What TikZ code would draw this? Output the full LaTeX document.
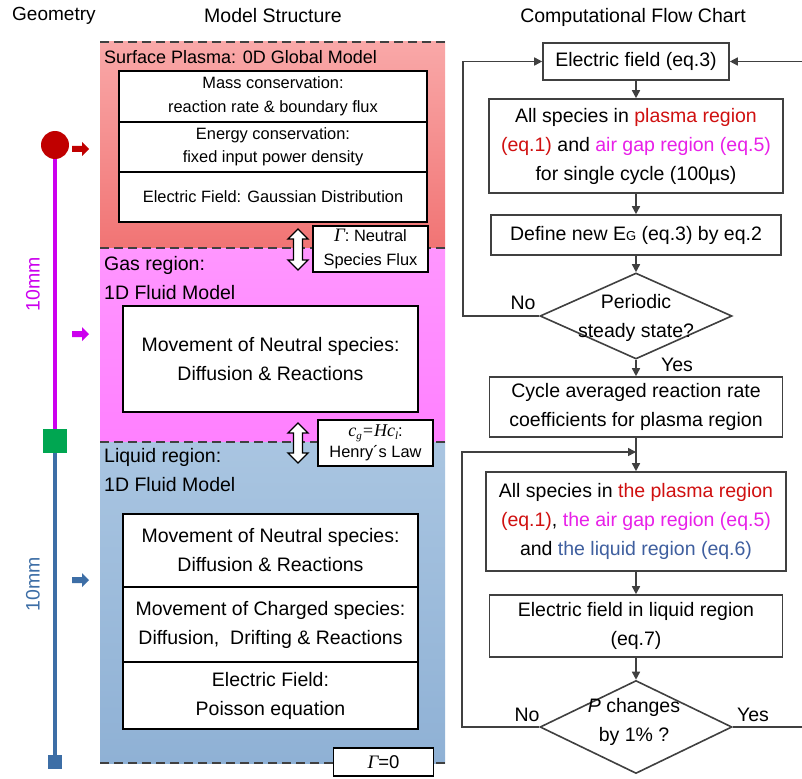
\documentclass[tikz,border=0pt]{standalone}
\usepackage{fontspec}
\setmainfont{Liberation Sans}
\newfontfamily\serifi{Liberation Serif}
\usetikzlibrary{shapes.geometric,arrows.meta}
\definecolor{redtop}{HTML}{F9A8A8}
\definecolor{redbot}{HTML}{F17474}
\definecolor{pinktop}{HTML}{FF96FF}
\definecolor{pinkbot}{HTML}{FF80FF}
\definecolor{bluetop}{HTML}{A9C5E1}
\definecolor{bluebot}{HTML}{8FB1D5}
\definecolor{dkred}{HTML}{C00000}
\definecolor{magc}{HTML}{CC00EE}
\definecolor{greenc}{HTML}{00A651}
\definecolor{bluec}{HTML}{3D6EA6}
\definecolor{lineg}{HTML}{404040}
\definecolor{fred}{HTML}{D01010}
\definecolor{fmag}{HTML}{E820E8}
\definecolor{fblue}{HTML}{3F5F9F}
\newcommand\bigf{\fontsize{19.5}{29}\selectfont}
\newcommand\midf{\fontsize{18}{26}\selectfont}
\newcommand\smallf{\fontsize{16.4}{23.5}\selectfont}
\newcommand\myGamma{{\serifi\itshape\fontsize{19}{19}\selectfont Γ}}
\newcommand\subi[1]{\raisebox{-3pt}{\fontsize{11}{11}\selectfont #1}}
\tikzset{
  cell/.style={draw=black, fill=white, line width=1.6pt, inner sep=0pt, align=center, font=\smallf},
  bigcell/.style={draw=black, fill=white, line width=1.6pt, inner sep=0pt, align=center, font=\bigf},
  tagbox/.style={draw=black, fill=white, line width=1.5pt, inner sep=0pt, align=center, font=\fontsize{16.4}{21}\selectfont},
  fbox/.style={draw=lineg, fill=white, line width=1.6pt, inner sep=0pt, align=center, font=\bigf},
  fdia/.style={draw=lineg, fill=white, line width=1.6pt, diamond, inner sep=0pt},
  conn/.style={draw=lineg, line width=1.6pt},
  arr/.style={conn, -{Triangle[length=8pt,width=8pt]}},
  sep/.style={draw=lineg, line width=1.5pt, dash pattern=on 9pt off 5pt},
  title/.style={font=\bigf, inner sep=0pt},
  lbl/.style={font=\bigf, inner sep=0pt, anchor=west},
  dblarr/.style={draw=black, fill=white, line width=1.3pt},
}
\begin{document}
\begin{tikzpicture}[x=1pt,y=-1pt]
\clip (0,0) rectangle (802,778);
\fill[white] (0,0) rectangle (802,778);

% titles
\node[title, anchor=west, font=\fontsize{19}{24}\selectfont] (tg) at (12,16) {Geometry};
\node[title] (tm) at (273,16) {Model Structure};
\node[title] (tc) at (633,17) {Computational Flow Chart};

% regions
\shade[top color=redtop, bottom color=redbot] (100,42) rectangle (445,248);
\shade[top color=pinktop, bottom color=pinkbot] (100,248) rectangle (445,442);
\shade[top color=bluetop, bottom color=bluebot] (100,442) rectangle (445,763);
\draw[sep] (100,42) -- (445,42);
\draw[sep] (100,248) -- (445,248);
\draw[sep] (100,442) -- (445,442);
\draw[sep] (100,763) -- (445,763);

% geometry
\draw[magc, line width=4.5pt] (55,145) -- (55,441);
\draw[bluec, line width=4pt] (55,441) -- (55,762);
\fill[dkred] (55,145) circle (14pt);
\fill[greenc] (43,429) rectangle (67,453);
\fill[bluec] (48,755) rectangle (62,769);
\node[rotate=90, text=magc, font=\bigf, inner sep=0pt] (m1) at (33,284) {10mm};
\node[rotate=90, text=bluec, font=\bigf, inner sep=0pt] (m2) at (33,584) {10mm};
\fill[dkred] (72,146) -- (82,146) -- (82,142) -- (89,149) -- (82,156) -- (82,152) -- (72,152) -- cycle;
\fill[magc] (72,331) -- (82,331) -- (82,327) -- (89,334) -- (82,341) -- (82,337) -- (72,337) -- cycle;
\fill[bluec] (72,577) -- (82,577) -- (82,573) -- (89,580) -- (82,587) -- (82,583) -- (72,583) -- cycle;

% surface plasma
\node[lbl, font=\midf] (sp) at (104,57) {Surface Plasma: 0D Global Model};
\node[cell, minimum width=308, minimum height=51] (mass) at (273,96.5) {Mass conservation:\\reaction rate \& boundary flux};
\node[cell, minimum width=308, minimum height=50] (energy) at (273,147) {Energy conservation:\\fixed input power density};
\node[cell, minimum width=308, minimum height=50] (ef) at (273,197) {Electric Field: Gaussian Distribution};

% flux
\draw[dblarr] (298,229) -- (308,239) -- (302.5,239) -- (302.5,260) -- (308,260) -- (298,270) -- (288,260) -- (293.5,260) -- (293.5,239) -- (288,239) -- cycle;
\node[tagbox, minimum width=115, minimum height=46, font=\fontsize{16.4}{24}\selectfont] (flux) at (370.5,249) {\myGamma: Neutral\\Species Flux};

% gas region
\node[lbl] (gr) at (104,265) {Gas region:};
\node[lbl] (gf) at (104,293) {1D Fluid Model};
\node[bigcell, minimum width=295, minimum height=106] (gasbox) at (270.5,359) {Movement of Neutral species:\\Diffusion \& Reactions};

% henry
\draw[dblarr] (298,423) -- (308,433) -- (302.5,433) -- (302.5,453) -- (308,453) -- (298,463) -- (288,453) -- (293.5,453) -- (293.5,433) -- (288,433) -- cycle;
\node[tagbox, minimum width=115, minimum height=46] (henry) at (375.5,443) {{\serifi\itshape\fontsize{18}{18}\selectfont c\subi{g}=Hc\subi{l}}:\\Henry´s Law};

% liquid region
\node[lbl] (lr) at (104,457) {Liquid region:};
\node[lbl] (lf) at (104,485) {1D Fluid Model};
\node[bigcell, minimum width=295, minimum height=73] (ln) at (270.5,550.5) {Movement of Neutral species:\\Diffusion \& Reactions};
\node[bigcell, minimum width=295, minimum height=75] (lc) at (270.5,624.5) {Movement of Charged species:\\Diffusion,\ \ Drifting \& Reactions};
\node[bigcell, minimum width=295, minimum height=67] (le) at (270.5,695.5) {Electric Field:\\Poisson equation};
\node[tagbox, minimum width=100, minimum height=28, font=\fontsize{18.5}{20}\selectfont] (g0) at (383.5,762) {\myGamma=0};

% flow chart
\node[fbox, minimum width=186, minimum height=37] (b1) at (636,61.5) {Electric field (eq.3)};
\node[fbox, minimum width=294, minimum height=94] (b2) at (636,146) {All species in \textcolor{fred}{plasma region}\\\textcolor{fred}{(eq.1)} and \textcolor{fmag}{air gap region (eq.5)}\\for single cycle (100µs)};
\node[fbox, minimum width=290, minimum height=40] (b3) at (636,235) {Define new E{\fontsize{13}{13}\selectfont G} (eq.3) by eq.2};
\node[fdia, minimum width=192, minimum height=86] (d1) at (636,316) {};
\node[font=\bigf, align=center, inner sep=0pt] (d1t) at (636,318) {Periodic\\steady state?};
\node[fbox, minimum width=293, minimum height=60] (b4) at (636,407) {Cycle averaged reaction rate\\coefficients for plasma region};
\node[fbox, minimum width=300, minimum height=99] (b5) at (636,521.5) {All species in \textcolor{fred}{the plasma region}\\\textcolor{fred}{(eq.1)}, \textcolor{fmag}{the air gap region (eq.5)}\\and \textcolor{fblue}{the liquid region (eq.6)}};
\node[fbox, minimum width=293, minimum height=62] (b6) at (636,626) {Electric field in liquid region\\(eq.7)};
\node[fdia, minimum width=192, minimum height=93] (d2) at (636,727) {};
\node[font=\bigf, align=center, inner sep=0pt] (d2t) at (634,722) {\textit{P} changes\\by 1\% ?};

\node[font=\bigf, inner sep=0pt] (no1) at (523,303) {No};
\node[font=\bigf, inner sep=0pt] (yes1) at (677,365) {Yes};
\node[font=\bigf, inner sep=0pt] (no2) at (527,715) {No};
\node[font=\bigf, inner sep=0pt] (yes2) at (753,715) {Yes};

\coordinate (l1) at (463,316);
\coordinate (l2) at (462,452);
\coordinate (r1) at (830,61.5);

\draw[arr] (b1) -- (b2);
\draw[arr] (b2) -- (b3);
\draw[arr] (b3) -- (d1);
\draw[arr] (d1.west) -- (l1) |- (b1.west);
\draw[arr] (d1) -- (b4);
\draw[arr] (b4) -- (b5);
\draw[arr] (d2.west) -| (l2) -- (b5.north |- l2);
\draw[arr] (b5) -- (b6);
\draw[arr] (b6) -- (d2);
\draw[arr] (d2.east) -| (r1) -- (b1.east);
\end{tikzpicture}
\end{document}
